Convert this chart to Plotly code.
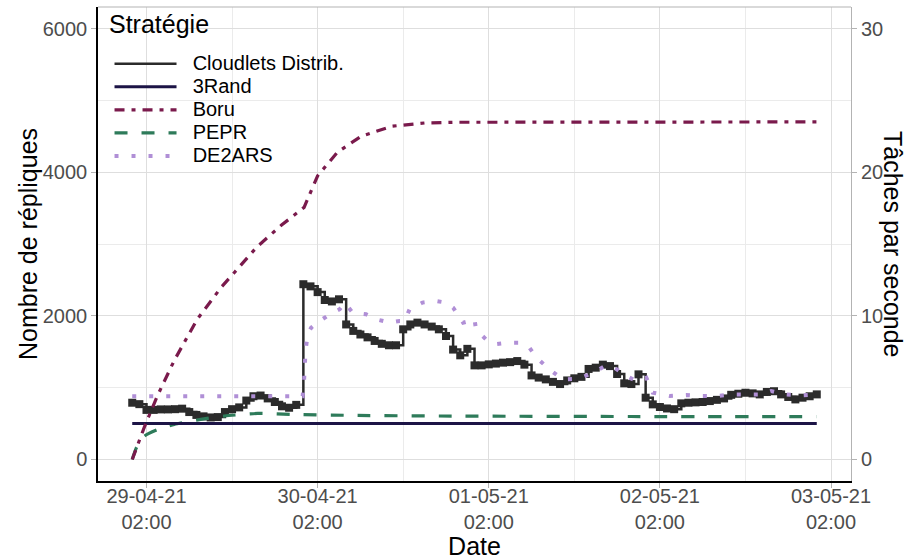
import pandas as pd
import plotly.graph_objects as go

START = pd.Timestamp("2021-04-29 00:00")

# ---- data (hours since 29-04-21 00:00) ----
CLOUDLETS_HOURS = list(range(97))
CLOUDLETS_VALUES = [
    790, 770, 690, 690, 697, 697, 700, 707, 660, 620,
    600, 585, 590, 660, 700, 725, 820, 880, 890, 850,
    800, 740, 720, 760, 2440, 2410, 2330, 2220, 2200, 2230,
    1880, 1790, 1740, 1700, 1650, 1610, 1590, 1590, 1812, 1880,
    1905, 1880, 1850, 1812, 1719, 1530, 1450, 1540, 1310, 1310,
    1324, 1335, 1348, 1355, 1370, 1320, 1170, 1140, 1115, 1080,
    1050, 1100, 1130, 1150, 1260, 1278, 1320, 1300, 1190, 1060,
    1050, 1185, 860, 767, 730, 710, 700, 781, 790, 795,
    800, 813, 830, 850, 900, 915, 929, 920, 906, 940,
    950, 906, 870, 836, 860, 880, 906,
]

RAND3_HOURS = [0, 96]
RAND3_VALUES = [500, 500]

BORU_HOURS = [0, 1.7, 3.5, 5.9, 9.1, 12.5, 14.3, 17.5, 20.9, 24.1, 26.0, 28.8, 32.1, 36.4, 41.0, 45.6, 96]
BORU_VALUES = [0, 450, 880, 1380, 1950, 2400, 2600, 2960, 3260, 3510, 3950, 4280, 4500, 4640, 4685, 4695, 4700]

PEPR_HOURS = [0, 0.6, 1.7, 3.6, 5.9, 9.6, 12.9, 17.6, 22.3, 31.6, 45.6, 70, 96]
PEPR_VALUES = [0, 167, 325, 418, 488, 557, 604, 641, 627, 613, 604, 598, 595]

DE2ARS_HOURS = [0, 23.9, 24.1, 24.3, 24.6, 25.1, 26.3, 27.7, 29.1, 29.8, 30.9, 32.8, 34.2, 36.1,
                37.5, 38.2, 38.9, 40.7, 42.6, 44.0, 45.0, 46.4, 47.3, 48.0, 48.2, 49.6, 50.8,
                52.9, 54.3, 55.7, 56.7, 58.5, 60.4, 62.7, 64.6, 66.5, 67.6, 69.3, 70.7, 72.1,
                73.0, 75.4, 77.7, 79.6, 81.9, 84.3, 88.4, 89.6, 91.5, 93.6, 96.0]
DE2ARS_VALUES = [880, 880, 1100, 1500, 1742, 1836, 1928, 2021, 2091, 2180, 2045, 2021, 1952, 1905,
                 1928, 1928, 2091, 2184, 2207, 2184, 2114, 1905, 1928, 1960, 1812, 1673, 1603,
                 1626, 1626, 1557, 1418, 1254, 1115, 1125, 1208, 1310, 1278, 1161, 1092, 1139,
                 930, 883, 896, 883, 883, 906, 906, 952, 906, 892, 906]

MAJOR_TICKS = ["2021-04-29 02:00", "2021-04-30 02:00", "2021-05-01 02:00", "2021-05-02 02:00", "2021-05-03 02:00"]
MAJOR_LABELS = ["29-04-21<br>02:00", "30-04-21<br>02:00", "01-05-21<br>02:00", "02-05-21<br>02:00", "03-05-21<br>02:00"]
MINOR_TICKS = ["2021-04-29 14:00", "2021-04-30 14:00", "2021-05-01 14:00", "2021-05-02 14:00"]
Y_TICKS = [0, 2000, 4000, 6000]
Y2_TICKS = [0, 10, 20, 30]


def to_dates(hours):
    return [(START + pd.Timedelta(hours=h)).strftime("%Y-%m-%d %H:%M:%S") for h in hours]


def legend_name(text):
    return "<span style='font-size:20px'>&nbsp;&nbsp;" + text + "</span>"


FONT = "Liberation Sans, Arial, sans-serif"
C_CLOUD = "#2b2b2b"
C_RAND = "#1c1446"
C_BORU = "#7a1a4c"
C_PEPR = "#2e7b5a"
C_DE2 = "#b08fd6"

fig = go.Figure()

fig.add_trace(go.Scatter(x=to_dates(CLOUDLETS_HOURS), y=CLOUDLETS_VALUES, mode="lines",
                         line=dict(color=C_CLOUD, width=2.5, shape="hv"),
                         name=legend_name("Cloudlets Distrib."), legendrank=1))
fig.add_trace(go.Scatter(x=to_dates(CLOUDLETS_HOURS), y=CLOUDLETS_VALUES, mode="markers",
                         marker=dict(color=C_CLOUD, size=8, symbol="square", line=dict(width=0)),
                         showlegend=False))
fig.add_trace(go.Scatter(x=to_dates(PEPR_HOURS), y=PEPR_VALUES, mode="lines",
                         line=dict(color=C_PEPR, width=3.2, dash="13px,14px", shape="spline", smoothing=0.6),
                         name=legend_name("PEPR"), legendrank=4))
fig.add_trace(go.Scatter(x=to_dates(RAND3_HOURS), y=RAND3_VALUES, mode="lines",
                         line=dict(color=C_RAND, width=3),
                         name=legend_name("3Rand"), legendrank=2))
fig.add_trace(go.Scatter(x=to_dates(BORU_HOURS), y=BORU_VALUES, mode="lines",
                         line=dict(color=C_BORU, width=3.2, dash="10px,7px,4px,7px"),
                         name=legend_name("Boru"), legendrank=3))
fig.add_trace(go.Scatter(x=to_dates(DE2ARS_HOURS), y=DE2ARS_VALUES, mode="lines",
                         line=dict(color=C_DE2, width=4, dash="4px,13px"),
                         name=legend_name("DE2ARS"), legendrank=5))
fig.add_trace(go.Scatter(x=[None], y=[None], yaxis="y2", showlegend=False, hoverinfo="skip"))

x0 = (START + pd.Timedelta(hours=-4.8)).strftime("%Y-%m-%d %H:%M:%S")
x1 = (START + pd.Timedelta(hours=100.8)).strftime("%Y-%m-%d %H:%M:%S")

tickfont = dict(family=FONT, size=20, color="#4D4D4D")
titlefont = dict(family=FONT, size=25, color="black")

fig.update_layout(
    width=910, height=560,
    margin=dict(l=98, r=59, t=7, b=79),
    paper_bgcolor="white", plot_bgcolor="white",
    font=dict(family=FONT),
    xaxis=dict(
        type="date", range=[x0, x1], automargin=False,
        tickmode="array", tickvals=MAJOR_TICKS, ticktext=MAJOR_LABELS,
        ticks="outside", ticklen=5, tickcolor="#B3B3B3", tickfont=tickfont,
        ticklabelstandoff=-9,
        showline=True, linecolor="black", linewidth=1.5,
        showgrid=True, gridcolor="#DEDEDE", gridwidth=1, zeroline=False,
        minor=dict(tickmode="array", tickvals=MINOR_TICKS, showgrid=True, gridcolor="#EBEBEB", gridwidth=1, ticks=""),
        title=dict(text="Date", font=titlefont, standoff=10),
    ),
    yaxis=dict(
        range=[-300, 6300], tickmode="array", tickvals=Y_TICKS, automargin=False,
        ticks="outside", ticklen=5, tickcolor="#B3B3B3", tickfont=tickfont,
        showline=True, linecolor="black", linewidth=1.5,
        showgrid=True, gridcolor="#DEDEDE", gridwidth=1, zeroline=False,
        minor=dict(dtick=2000, tick0=1000, showgrid=True, gridcolor="#EBEBEB", gridwidth=1, ticks=""),
    ),
    yaxis2=dict(
        overlaying="y", side="right", anchor="x", automargin=False,
        range=[-1.5, 31.5], tickmode="array", tickvals=Y2_TICKS,
        ticks="outside", ticklen=5, tickcolor="#B3B3B3", tickfont=tickfont,
        showline=True, linecolor="#B3B3B3", linewidth=1,
        showgrid=False, zeroline=False,
    ),
    legend=dict(
        x=0.0153, y=0.915, xanchor="left", yanchor="top",
        bgcolor="rgba(0,0,0,0)", borderwidth=0,
        font=dict(family=FONT, size=15.4, color="black"),
        itemwidth=62, tracegroupgap=0,
    ),
    shapes=[dict(type="line", xref="paper", yref="paper", x0=0, x1=1, y0=1, y1=1,
                 line=dict(color="#B3B3B3", width=1))],
    annotations=[
        dict(text="Stratégie", xref="paper", yref="paper", x=0.012, y=0.964,
             xanchor="left", yanchor="middle", showarrow=False,
             font=dict(family=FONT, size=25, color="black")),
        dict(text="Nombre de répliques", textangle=-90, xref="paper", yref="paper",
             x=0, y=0.5, xanchor="center", yanchor="middle", xshift=-70, showarrow=False,
             font=titlefont),
        dict(text="Tâches par seconde", textangle=90, xref="paper", yref="paper",
             x=1, y=0.5, xanchor="left", yanchor="middle", xshift=26, showarrow=False,
             font=titlefont),
    ],
)

fig.write_html("out.html", config={"displayModeBar": False},
               post_script="document.body.style.margin='0';document.body.style.overflow='hidden';")
